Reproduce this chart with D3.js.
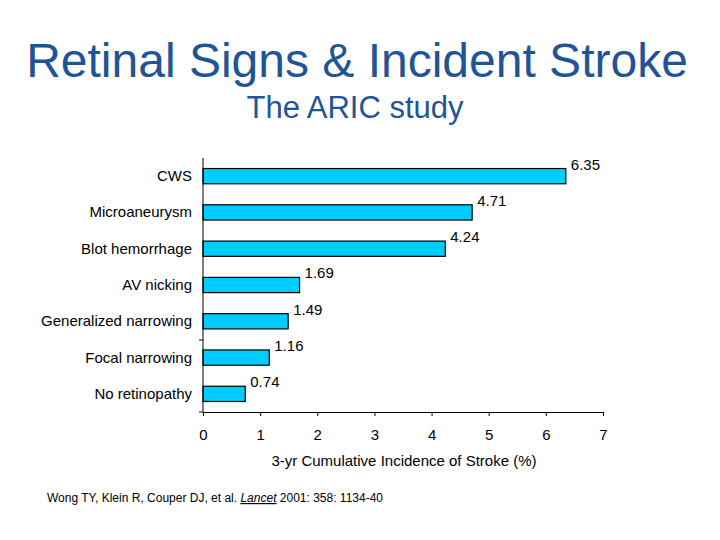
<!DOCTYPE html>
<html>
<head>
<meta charset="utf-8">
<script src="https://cdn.jsdelivr.net/npm/d3@7"></script>
<style>
  body { margin: 0; background: #fff; }
  text { font-family: "Liberation Sans", Arial, sans-serif; }
</style>
</head>
<body>
<svg id="chart" width="720" height="540"></svg>
<script>
// retinal signs, top to bottom
var categories = ["CWS", "Microaneurysm", "Blot hemorrhage", "AV nicking",
                  "Generalized narrowing", "Focal narrowing", "No retinopathy"];
var incidence = [6.35, 4.71, 4.24, 1.69, 1.49, 1.16, 0.74];
var xTicks = [0, 1, 2, 3, 4, 5, 6, 7];

var svg = d3.select("#chart");
var plotLeft = 203, plotRight = 603, plotTop = 158, plotBottom = 412;

svg.append("text")
  .attr("x", 357).attr("y", 77)
  .attr("text-anchor", "middle")
  .attr("font-size", 48)
  .attr("fill", "#1F5597")
  .text("Retinal Signs & Incident Stroke");

svg.append("text")
  .attr("x", 355).attr("y", 118)
  .attr("text-anchor", "middle")
  .attr("font-size", 31)
  .attr("fill", "#1F5597")
  .text("The ARIC study");

var x = d3.scaleLinear().domain([0, 7]).range([plotLeft, plotRight]);
var y = d3.scaleBand().domain(categories).range([plotTop, plotBottom]).paddingInner(0.58).paddingOuter(0.29);

// bars
svg.selectAll("rect.bar")
  .data(categories)
  .enter()
  .append("rect")
  .attr("class", "bar")
  .attr("x", x(0))
  .attr("y", function(d) { return y(d); })
  .attr("width", function(d, i) { return x(incidence[i]) - x(0); })
  .attr("height", y.bandwidth())
  .attr("fill", "#00CCFF")
  .attr("stroke", "#000")
  .attr("stroke-width", 1.2);

// value labels
svg.selectAll("text.val")
  .data(categories)
  .enter()
  .append("text")
  .attr("class", "val")
  .attr("x", function(d, i) { return x(incidence[i]) + 5; })
  .attr("y", function(d) { return y(d) + 1; })
  .attr("font-size", 15)
  .attr("fill", "#000")
  .text(function(d, i) { return incidence[i].toFixed(2); });

// category labels
svg.selectAll("text.cat")
  .data(categories)
  .enter()
  .append("text")
  .attr("class", "cat")
  .attr("x", 192)
  .attr("y", function(d) { return y(d) + y.bandwidth() / 2 + 5; })
  .attr("text-anchor", "end")
  .attr("font-size", 15)
  .attr("fill", "#000")
  .text(function(d) { return d; });

// y axis line and the odd ticks
svg.append("line")
  .attr("x1", plotLeft).attr("x2", plotLeft).attr("y1", plotTop).attr("y2", plotBottom)
  .attr("stroke", "#000");
[340, plotBottom].forEach(function(t) {
  svg.append("line")
    .attr("x1", plotLeft - 4).attr("x2", plotLeft).attr("y1", t).attr("y2", t)
    .attr("stroke", "#000");
});

// x axis
var xAxis = svg.append("g")
  .attr("transform", "translate(0," + plotBottom + ")")
  .call(d3.axisBottom(x).tickValues(xTicks).tickSize(4).tickPadding(13).tickFormat(d3.format("d")));
xAxis.select(".domain").attr("stroke", "#000");
xAxis.selectAll("text").attr("font-size", 15).attr("fill", "#000")
  .attr("font-family", "'Liberation Sans', Arial, sans-serif");

svg.append("text")
  .attr("x", 404).attr("y", 466)
  .attr("text-anchor", "middle")
  .attr("font-size", 15)
  .attr("fill", "#000")
  .text("3-yr Cumulative Incidence of Stroke (%)");

// reference line
var ref = svg.append("text")
  .attr("x", 47).attr("y", 502)
  .attr("font-size", 12)
  .attr("fill", "#000");
ref.append("tspan").text("Wong TY, Klein R, Couper DJ, et al. ");
ref.append("tspan").attr("font-style", "italic").attr("text-decoration", "underline").text("Lancet");
ref.append("tspan").text(" 2001: 358: 1134-40");
</script>
</body>
</html>
